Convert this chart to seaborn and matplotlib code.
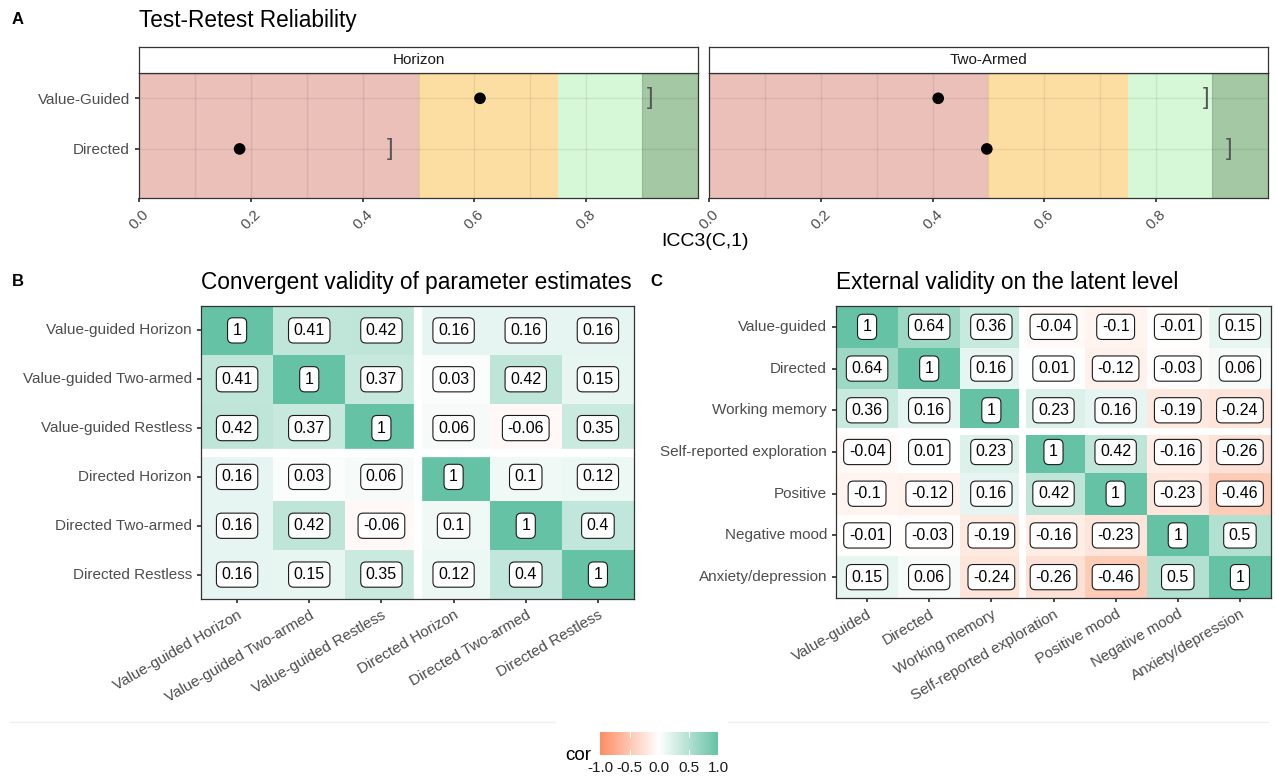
import numpy as np
import pandas as pd
import matplotlib.pyplot as plt
import seaborn as sns
from matplotlib.colors import LinearSegmentedColormap
from matplotlib.lines import Line2D

# panel A data
tasks = ["Horizon", "Two-Armed"]
params = ["Value-Guided", "Directed"]
icc_values = {"Horizon": [0.61, 0.18], "Two-Armed": [0.41, 0.497]}
bracket_values = {"Horizon": [0.915, 0.45], "Two-Armed": [0.89, 0.93]}
band_edges = [0.0, 0.5, 0.75, 0.9, 1.0]
band_colors = ["#EBC0B8", "#FDDEA2", "#D6F8D6", "#A3C8A3"]

# panel B data
conv_labels = ["Value-guided Horizon", "Value-guided Two-armed", "Value-guided Restless",
               "Directed Horizon", "Directed Two-armed", "Directed Restless"]
conv_cor = [
    [1.00, 0.41, 0.42, 0.16, 0.16, 0.16],
    [0.41, 1.00, 0.37, 0.03, 0.42, 0.15],
    [0.42, 0.37, 1.00, 0.06, -0.06, 0.35],
    [0.16, 0.03, 0.06, 1.00, 0.10, 0.12],
    [0.16, 0.42, -0.06, 0.10, 1.00, 0.40],
    [0.16, 0.15, 0.35, 0.12, 0.40, 1.00],
]

# panel C data
ext_rows = ["Value-guided", "Directed", "Working memory", "Self-reported exploration",
            "Positive", "Negative mood", "Anxiety/depression"]
ext_cols = ["Value-guided", "Directed", "Working memory", "Self-reported exploration",
            "Positive mood", "Negative mood", "Anxiety/depression"]
ext_cor = [
    [1.00, 0.64, 0.36, -0.04, -0.10, -0.01, 0.15],
    [0.64, 1.00, 0.16, 0.01, -0.12, -0.03, 0.06],
    [0.36, 0.16, 1.00, 0.23, 0.16, -0.19, -0.24],
    [-0.04, 0.01, 0.23, 1.00, 0.42, -0.16, -0.26],
    [-0.10, -0.12, 0.16, 0.42, 1.00, -0.23, -0.46],
    [-0.01, -0.03, -0.19, -0.16, -0.23, 1.00, 0.50],
    [0.15, 0.06, -0.24, -0.26, -0.46, 0.50, 1.00],
]

sns.set_theme(style="white")
plt.rcParams['font.family'] = ['Liberation Sans', 'DejaVu Sans']

W, H = 1275, 779
fig = plt.figure(figsize=(W / 100, H / 100), dpi=100)


def px(x0, y0, x1, y1):
    return [x0 / W, 1 - y1 / H, (x1 - x0) / W, (y1 - y0) / H]


edge = "#333333"
tick_gray = "#4D4D4D"
lab_size = 11

# ---- A: test-retest reliability
panel_x = {"Horizon": (139, 698), "Two-Armed": (709, 1268)}
for task in tasks:
    x0, x1 = panel_x[task]
    ax = fig.add_axes(px(x0, 73, x1, 198))
    for lo, hi, c in zip(band_edges[:-1], band_edges[1:], band_colors):
        ax.axvspan(lo, hi, color=c, lw=0, zorder=0)
    for gx in np.arange(0.1, 1.0, 0.1):
        ax.axvline(gx, color="black", alpha=0.07, lw=1, zorder=1)
    for gy in range(len(params)):
        ax.axhline(gy, color="black", alpha=0.07, lw=1, zorder=1)
    df = pd.DataFrame({"icc": icc_values[task], "param": params})
    sns.scatterplot(data=df, x="icc", y="param", color="black", s=70,
                    edgecolor="none", ax=ax, zorder=3)
    for i, b in enumerate(bracket_values[task]):
        ax.text(b, i, "]", ha="center", va="center", fontsize=17,
                color="#555555", zorder=3)
    ax.set_xlim(0, 1)
    ax.set_ylim(1.97, -0.5)
    ax.set_xticks([0, 0.2, 0.4, 0.6, 0.8])
    ax.set_xticklabels(["0.0", "0.2", "0.4", "0.6", "0.8"], rotation=45,
                       ha="center", va="top", fontsize=lab_size, color=tick_gray)
    ax.set_xlabel("")
    ax.set_ylabel("")
    ax.set_yticks(range(len(params)))
    if task == "Horizon":
        ax.set_yticklabels(params, fontsize=lab_size, color=tick_gray)
        ax.tick_params(axis="y", length=3, color=edge, left=True)
    else:
        ax.set_yticklabels([])
        ax.tick_params(axis="y", length=0)
    ax.tick_params(axis="x", length=3, color=edge, bottom=True)
    for s in ax.spines.values():
        s.set_visible(True)
        s.set_color(edge)
        s.set_linewidth(0.9)
    strip = fig.add_axes(px(x0, 47, x1, 73))
    strip.set_xticks([])
    strip.set_yticks([])
    for s in strip.spines.values():
        s.set_visible(True)
        s.set_color(edge)
        s.set_linewidth(0.9)
    strip.text(0.5, 0.5, task, ha="center", va="center", fontsize=lab_size,
               color="#1A1A1A", transform=strip.transAxes)

fig.text(139 / W, 1 - 20 / H, "Test-Retest Reliability", ha="left", va="center",
         fontsize=16.3, color="black")
fig.text(705 / W, 1 - 242 / H, "ICC3(C,1)", ha="center", va="center",
         fontsize=14, color="black")

# ---- B and C: correlation heatmaps
cmap = LinearSegmentedColormap.from_list("cor", ["#FC8D62", "#FFFFFF", "#66C2A5"])


def fmt(v):
    return "{:g}".format(round(v, 2))


def heat(rect, mat, rows, cols, sep_w):
    ax = fig.add_axes(rect)
    data = pd.DataFrame(mat, index=rows, columns=cols)
    labels = np.vectorize(fmt)(np.array(mat))
    sns.heatmap(data, cmap=cmap, vmin=-1, vmax=1, annot=labels, fmt="",
                cbar=False, ax=ax,
                annot_kws={"color": "black", "fontsize": 11.5,
                           "bbox": dict(boxstyle="round,pad=0.32", fc="white",
                                        ec="#1A1A1A", lw=0.8)})
    ax.axvline(3, color="white", lw=sep_w)
    ax.axhline(3, color="white", lw=sep_w)
    ax.set_xticklabels(cols, rotation=30, ha="right", rotation_mode="anchor",
                       fontsize=lab_size, color=tick_gray)
    ax.set_yticklabels(rows, rotation=0, fontsize=lab_size, color=tick_gray)
    ax.set_xlabel("")
    ax.set_ylabel("")
    ax.tick_params(length=3, color=edge, bottom=True, left=True)
    for s in ax.spines.values():
        s.set_visible(True)
        s.set_color(edge)
        s.set_linewidth(0.9)
    return ax


axB = heat(px(201, 306, 634, 599), conv_cor, conv_labels, conv_labels, 6)
axC = heat(px(836, 306, 1271, 598), ext_cor, ext_rows, ext_cols, 5)

fig.text(201 / W, 1 - 283 / H, "Convergent validity of parameter estimates",
         ha="left", va="center", fontsize=16.3, color="black")
fig.text(836 / W, 1 - 283 / H, "External validity on the latent level",
         ha="left", va="center", fontsize=16.3, color="black")

# panel letters
for lab, x, y in [("A", 12, 20), ("B", 12, 282), ("C", 650, 282)]:
    fig.text(x / W, 1 - y / H, lab, ha="left", va="center", fontsize=12,
             fontweight="bold", color="black")

# ---- legend
fig.add_artist(Line2D([10 / W, 555 / W], [1 - 722 / H] * 2, color="#EFEFEF", lw=1))
fig.add_artist(Line2D([728 / W, 1268 / W], [1 - 722 / H] * 2, color="#EFEFEF", lw=1))
cax = fig.add_axes(px(600, 732, 718, 755))
sm = plt.cm.ScalarMappable(cmap=cmap, norm=plt.Normalize(-1, 1))
cb = fig.colorbar(sm, cax=cax, orientation="horizontal", ticks=[-1, -0.5, 0, 0.5, 1])
cb.outline.set_visible(False)
cb.ax.set_xticklabels(["-1.0", "-0.5", "0.0", "0.5", "1.0"], fontsize=lab_size,
                      color="#1A1A1A")
cb.ax.tick_params(length=0, pad=4)
for t in [-0.5, 0, 0.5]:
    cax.axvline(t, ymin=0, ymax=0.2, color="white", lw=0.8)
    cax.axvline(t, ymin=0.8, ymax=1, color="white", lw=0.8)
fig.text(565 / W, 1 - 756 / H, "cor", ha="left", va="center", fontsize=13.5,
         color="black")

fig.savefig("out.png", dpi=100)
